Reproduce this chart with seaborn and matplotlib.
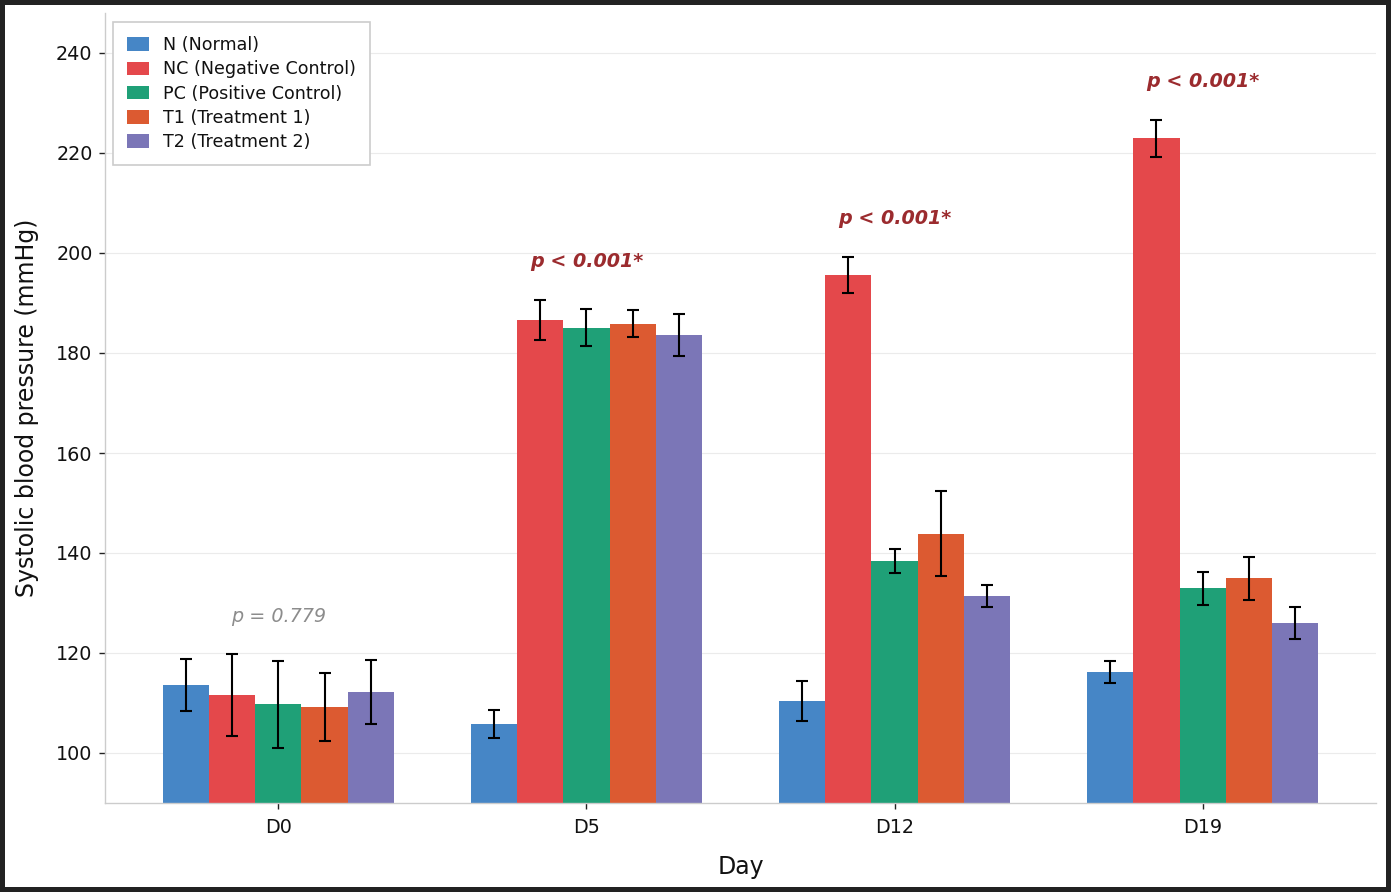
import numpy as np
import pandas as pd
import matplotlib
matplotlib.use("Agg")
import matplotlib.pyplot as plt
import seaborn as sns

days = ["D0", "D5", "D12", "D19"]
groups = ["N (Normal)", "NC (Negative Control)", "PC (Positive Control)",
          "T1 (Treatment 1)", "T2 (Treatment 2)"]
colors = ["#4686c6", "#e4484b", "#1fa077", "#dc5a31", "#7b76b7"]

mean_N = [113.7, 105.8, 110.4, 116.2]
mean_NC = [111.6, 186.7, 195.7, 223.0]
mean_PC = [109.8, 185.1, 138.5, 133.0]
mean_T1 = [109.3, 185.9, 143.9, 135.0]
mean_T2 = [112.2, 183.7, 131.4, 126.0]

err_N = [5.2, 2.8, 4.0, 2.2]
err_NC = [8.2, 4.0, 3.6, 3.7]
err_PC = [8.7, 3.7, 2.4, 3.3]
err_T1 = [6.8, 2.7, 8.5, 4.3]
err_T2 = [6.4, 4.2, 2.2, 3.2]

p_labels = ["p = 0.779", "p < 0.001*", "p < 0.001*", "p < 0.001*"]
p_significant = [False, True, True, True]

means = [mean_N, mean_NC, mean_PC, mean_T1, mean_T2]
errs = [err_N, err_NC, err_PC, err_T1, err_T2]

rows = []
for g, m in zip(groups, means):
    for d, v in zip(days, m):
        rows.append({"Day": d, "Group": g, "SBP": v})
df = pd.DataFrame(rows)

sns.set_style("whitegrid")
plt.rcParams["font.family"] = ["DejaVu Sans"]
plt.rcParams["text.color"] = "#111111"
plt.rcParams["axes.labelcolor"] = "#111111"
plt.rcParams["xtick.color"] = "#111111"
plt.rcParams["ytick.color"] = "#111111"

fig = plt.figure(figsize=(13.91, 8.92), dpi=100)
fig.patch.set_edgecolor("#222222")
fig.patch.set_linewidth(6)
ax = fig.add_axes([105 / 1391, 89 / 892, 1271 / 1391, 790 / 892])

sns.barplot(data=df, x="Day", y="SBP", hue="Group", order=days,
            hue_order=groups, palette=colors, errorbar=None,
            width=0.75, saturation=1, ax=ax, edgecolor="none")

for cont, e in zip(ax.containers, errs):
    xs = [b.get_x() + b.get_width() / 2 for b in cont]
    ys = [b.get_height() for b in cont]
    ax.errorbar(xs, ys, yerr=e, fmt="none", ecolor="black",
                elinewidth=1.5, capsize=4.5, capthick=1.5, zorder=5)

for i, d in enumerate(days):
    top = max(m[i] + e[i] for m, e in zip(means, errs))
    if p_significant[i]:
        ax.text(i, top + 7.6, p_labels[i], ha="center", va="center",
                fontsize=13.8, fontweight="bold", fontstyle="italic",
                color="#9b2b2e")
    else:
        ax.text(i, top + 7.6, p_labels[i], ha="center", va="center",
                fontsize=13.8, fontstyle="italic", color="#8c8c8c")

ax.set_ylim(90, 248)
ax.set_yticks(np.arange(100, 241, 20))
ax.set_xlabel("Day", fontsize=17, labelpad=13)
ax.set_ylabel("Systolic blood pressure (mmHg)", fontsize=17, labelpad=12)
ax.tick_params(axis="both", labelsize=13.8, length=4, width=1,
               color="#222222", left=True, bottom=True, pad=5)
ax.tick_params(axis="x", pad=7)
ax.grid(axis="x", visible=False)
ax.grid(axis="y", color="#ebebeb", linewidth=0.8)
ax.set_axisbelow(True)
for s in ["top", "right"]:
    ax.spines[s].set_visible(False)
for s in ["left", "bottom"]:
    ax.spines[s].set_color("#cccccc")
    ax.spines[s].set_linewidth(1)

leg = ax.legend(loc="upper left", fontsize=12.6, frameon=True, fancybox=False,
                edgecolor="#cccccc", framealpha=1, borderpad=0.8,
                labelspacing=0.36, handlelength=1.25, handleheight=0.8,
                handletextpad=0.8, borderaxespad=0,
                bbox_to_anchor=(8 / 1271, 1 - 9 / 790))
leg.get_frame().set_linewidth(1.2)

fig.savefig("out.png", dpi=100)
